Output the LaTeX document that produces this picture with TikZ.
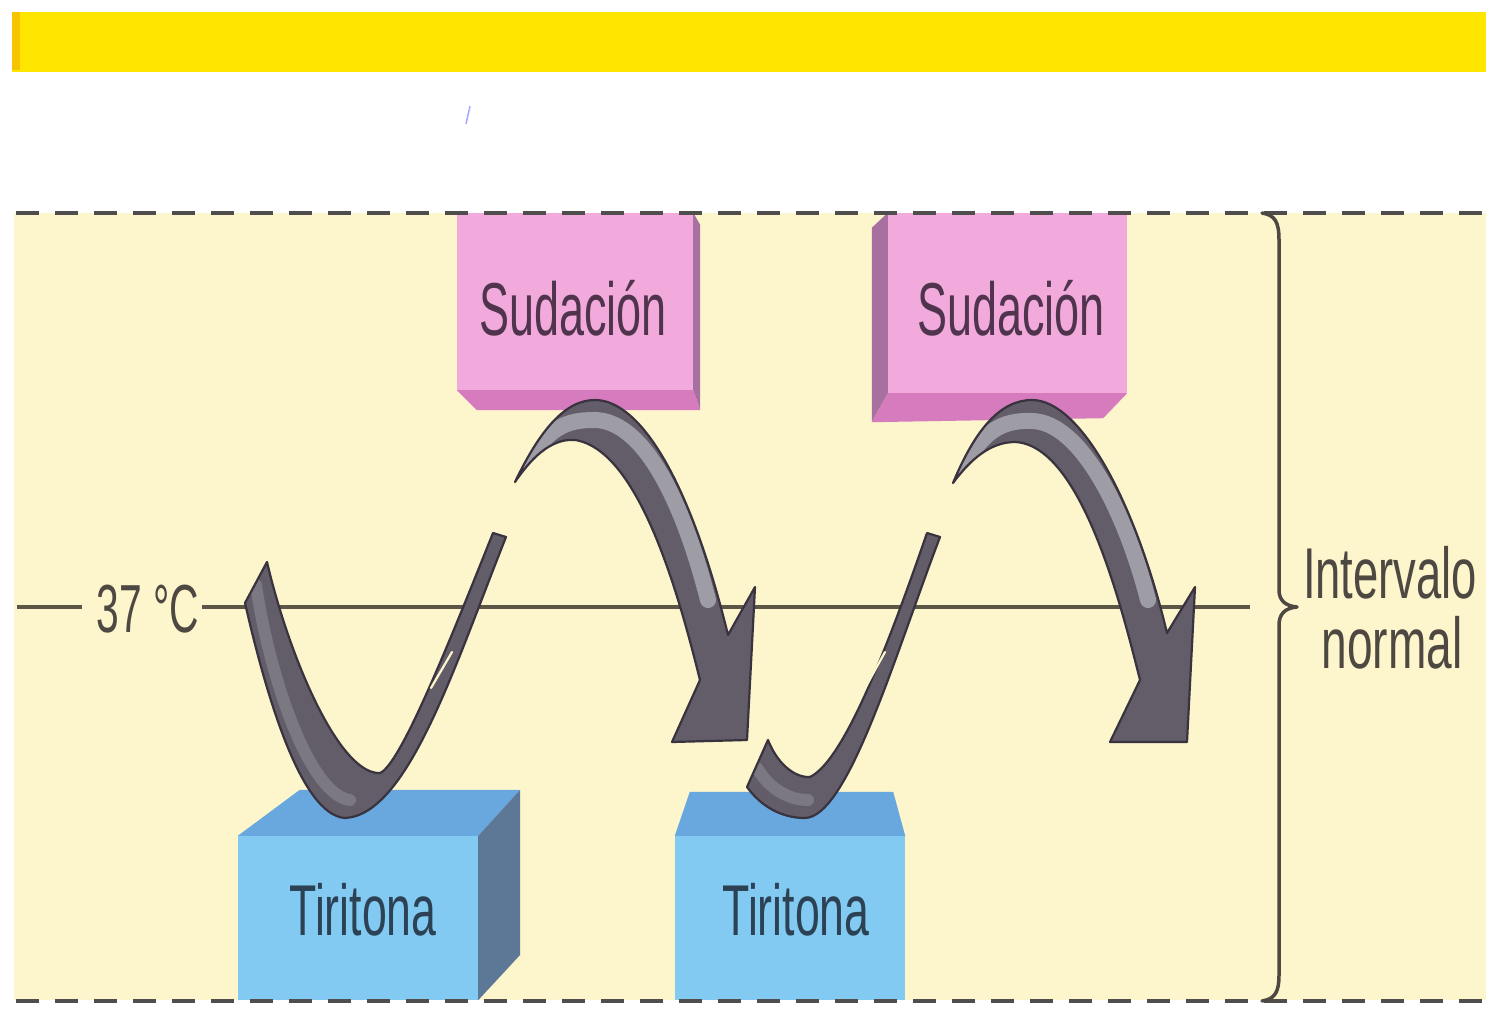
\documentclass[tikz,border=0pt]{standalone}
\usepackage{fontspec}
\setmainfont{Liberation Sans}
\usepackage{graphicx}
\usetikzlibrary{calc}
\definecolor{barYellow}{RGB}{255,230,0}
\definecolor{barOrange}{RGB}{246,196,0}
\definecolor{panelBeige}{RGB}{253,245,203}
\definecolor{dashGray}{RGB}{80,78,76}
\definecolor{lineBrown}{RGB}{92,86,70}
\definecolor{txtGray}{RGB}{78,72,66}
\definecolor{sudPink}{RGB}{242,170,220}
\definecolor{sudUnder}{RGB}{214,124,190}
\definecolor{sudSide}{RGB}{168,112,160}
\definecolor{sudText}{RGB}{80,52,78}
\definecolor{tirBlue}{RGB}{130,202,242}
\definecolor{tirTop}{RGB}{104,168,222}
\definecolor{tirSide}{RGB}{92,120,150}
\definecolor{tirText}{RGB}{44,66,84}
\definecolor{ribFill}{RGB}{98,93,104}
\definecolor{ribEdge}{RGB}{56,51,62}
\definecolor{ribLight}{RGB}{158,156,164}
\definecolor{ribMid}{RGB}{124,120,130}
\tikzset{
  sudface/.style={fill=sudPink, draw=none, inner sep=0pt},
  tirface/.style={fill=tirBlue, draw=none, inner sep=0pt},
  boxlabel/.style={anchor=base, inner sep=0pt, font=\fontsize{75}{90}\selectfont},
  sidelabel/.style={anchor=base, inner sep=0pt, text=txtGray, font=\fontsize{70}{84}\selectfont},
  hilite/.style={line width=16pt, line cap=round, draw=ribLight},
  midlite/.style={line width=12pt, line cap=round, draw=ribMid},
  ribline/.style={draw=ribEdge, line width=2.2pt, line join=round},
  slit/.style={draw=panelBeige, line width=2.2pt, line cap=round},
  dashrule/.style={draw=dashGray, line width=4pt, dash pattern=on 23pt off 16pt},
  templine/.style={draw=lineBrown, line width=4.5pt},
  bracestyle/.style={draw=txtGray, line width=3.5pt, line cap=round, line join=round}
}
\begin{document}
\begin{tikzpicture}[x=1pt,y=-1pt]
\useasboundingbox (0,0) rectangle (1486,1009);
\fill[white] (0,0) rectangle (1486,1009);
% yellow bar
\fill[barYellow] (12,12) rectangle (1486,72);
\fill[barOrange] (12,12) rectangle (20,70);
\draw[blue!35, line width=1.5pt] (470,106) -- (466,124);
% panel
\fill[panelBeige] (14,213) rectangle (1486,1000);
% 37 C line
\node[sidelabel, font=\fontsize{68}{80}\selectfont] (temp) at (148,632) {\scalebox{0.6}[1]{37 °C}};
\coordinate (lineL) at (17,607);
\coordinate (lineR) at (1250,607);
\draw[templine] (lineL) -- ($(temp.west |- lineL)+(-15,0)$);
\draw[templine] ($(temp.east |- lineL)+(3,0)$) -- (lineR);

% Sudacion boxes
\node[sudface, minimum width=236pt, minimum height=177pt] (sud1) at (575,301.5) {};
\fill[sudUnder] (sud1.south west) -- (sud1.south east) -- ++(7,20) -- ($(sud1.south west)+(20,20)$) -- cycle;
\fill[sudSide] (sud1.north east) -- ++(7,12) -- ++(0,185) -- (sud1.south east) -- cycle;
\node[boxlabel, text=sudText] (sud1t) at (573,335) {\scalebox{0.6}[1]{Sudación}};

\node[sudface, minimum width=239pt, minimum height=180pt] (sud2) at (1007.5,303) {};
\fill[sudUnder] (sud2.south west) -- (sud2.south east) -- ++(-24,25) -- ($(sud2.south west)+(-16,29)$) -- cycle;
\fill[sudSide] (sud2.north west) -- ++(-16,15) -- ++(0,194) -- (sud2.south west) -- cycle;
\node[boxlabel, text=sudText] (sud2t) at (1011,335) {\scalebox{0.6}[1]{Sudación}};

% Tiritona boxes
\node[tirface, minimum width=240pt, minimum height=164pt] (tir1) at (358,918) {};
\fill[tirTop] (tir1.north west) -- (tir1.north east) -- ++(42,-46) -- ($(tir1.north west)+(62,-46)$) -- cycle;
\fill[tirSide] (tir1.north east) -- ++(42,-46) -- ++(0,165) -- (tir1.south east) -- cycle;
\node[boxlabel, text=tirText, font=\fontsize{72}{86}\selectfont] (tir1t) at (363,935) {\scalebox{0.62}[1]{Tiritona}};

\node[tirface, minimum width=230pt, minimum height=164pt] (tir2) at (790,918) {};
\fill[tirTop] (tir2.north west) -- (tir2.north east) -- ++(-12,-44) -- ($(tir2.north west)+(15,-44)$) -- cycle;
\node[boxlabel, text=tirText, font=\fontsize{72}{86}\selectfont] (tir2t) at (796,935) {\scalebox{0.62}[1]{Tiritona}};

% dashed borders
\draw[dashrule] (16,213) -- (1486,213);
\draw[dashrule] (16,1001) -- (1486,1001);

% ribbon 1 (V)
\def\ribA{(245,603) -- (267,562) .. controls (290,660) and (340,775) .. (380,773) .. controls (400,765) and (447,648) .. (493,533) -- (506,537) .. controls (455,665) and (408,815) .. (345,818) .. controls (300,815) and (265,690) .. (245,603) -- cycle}
\fill[ribFill] \ribA;
\begin{scope}
\clip \ribA;
\draw[midlite] (256,585) .. controls (270,680) and (310,795) .. (350,800);
\end{scope}
\draw[ribline] \ribA;
\draw[slit] (431,688) -- (452,652);

% ribbon 2 (arch + arrow)
\def\ribB{(515,482) .. controls (540,430) and (565,400) .. (595,400) .. controls (640,400) and (690,480) .. (728,635) -- (755,587) -- (747,740) -- (672,742) -- (700,680) .. controls (680,600) and (640,450) .. (575,440) .. controls (550,438) and (530,460) .. (515,482) -- cycle}
\fill[ribFill] \ribB;
\begin{scope}
\clip \ribB;
\draw[hilite] (520,478) .. controls (545,425) and (568,420) .. (595,420) .. controls (640,421) and (680,490) .. (708,600);
\end{scope}
\draw[ribline] \ribB;

% ribbon 3 (V)
\def\ribC{(747,787) -- (768,740) .. controls (780,770) and (800,778) .. (810,777) .. controls (845,760) and (890,640) .. (927,533) -- (940,537) .. controls (895,655) and (848,817) .. (805,818) .. controls (780,818) and (760,805) .. (747,787) -- cycle}
\fill[ribFill] \ribC;
\begin{scope}
\clip \ribC;
\draw[midlite] (757,768) .. controls (770,790) and (790,800) .. (808,800);
\end{scope}
\draw[ribline] \ribC;
\draw[slit] (864,690) -- (885,652);

% ribbon 4 (arch + arrow)
\def\ribD{(953,483) .. controls (975,430) and (1000,400) .. (1032,400) .. controls (1080,400) and (1135,500) .. (1167,633) -- (1195,587) -- (1187,742) -- (1110,742) -- (1140,680) .. controls (1120,600) and (1080,445) .. (1015,442) .. controls (990,442) and (970,460) .. (953,483) -- cycle}
\fill[ribFill] \ribD;
\begin{scope}
\clip \ribD;
\draw[hilite] (958,480) .. controls (980,428) and (1005,420) .. (1032,421) .. controls (1080,422) and (1125,510) .. (1148,600);
\end{scope}
\draw[ribline] \ribD;

% brace
\coordinate (braceTop) at (1262,213);
\coordinate (braceTip) at (1297,607);
\coordinate (braceBot) at (1262,1001);
\draw[bracestyle] (braceTop) .. controls (1275,215) and (1279,222) .. (1279,240) -- (1279,590) .. controls (1279,600) and (1285,606) .. (braceTip) .. controls (1285,608) and (1279,614) .. (1279,625) -- (1279,975) .. controls (1279,992) and (1275,999) .. (braceBot);
\node[sidelabel, font=\fontsize{72}{86}\selectfont] (interv) at (1390,598) {\scalebox{0.63}[1]{Intervalo}};
\node[sidelabel, font=\fontsize{72}{86}\selectfont] (normal) at (1392,668) {\scalebox{0.64}[1]{normal}};
\end{tikzpicture}
\end{document}
